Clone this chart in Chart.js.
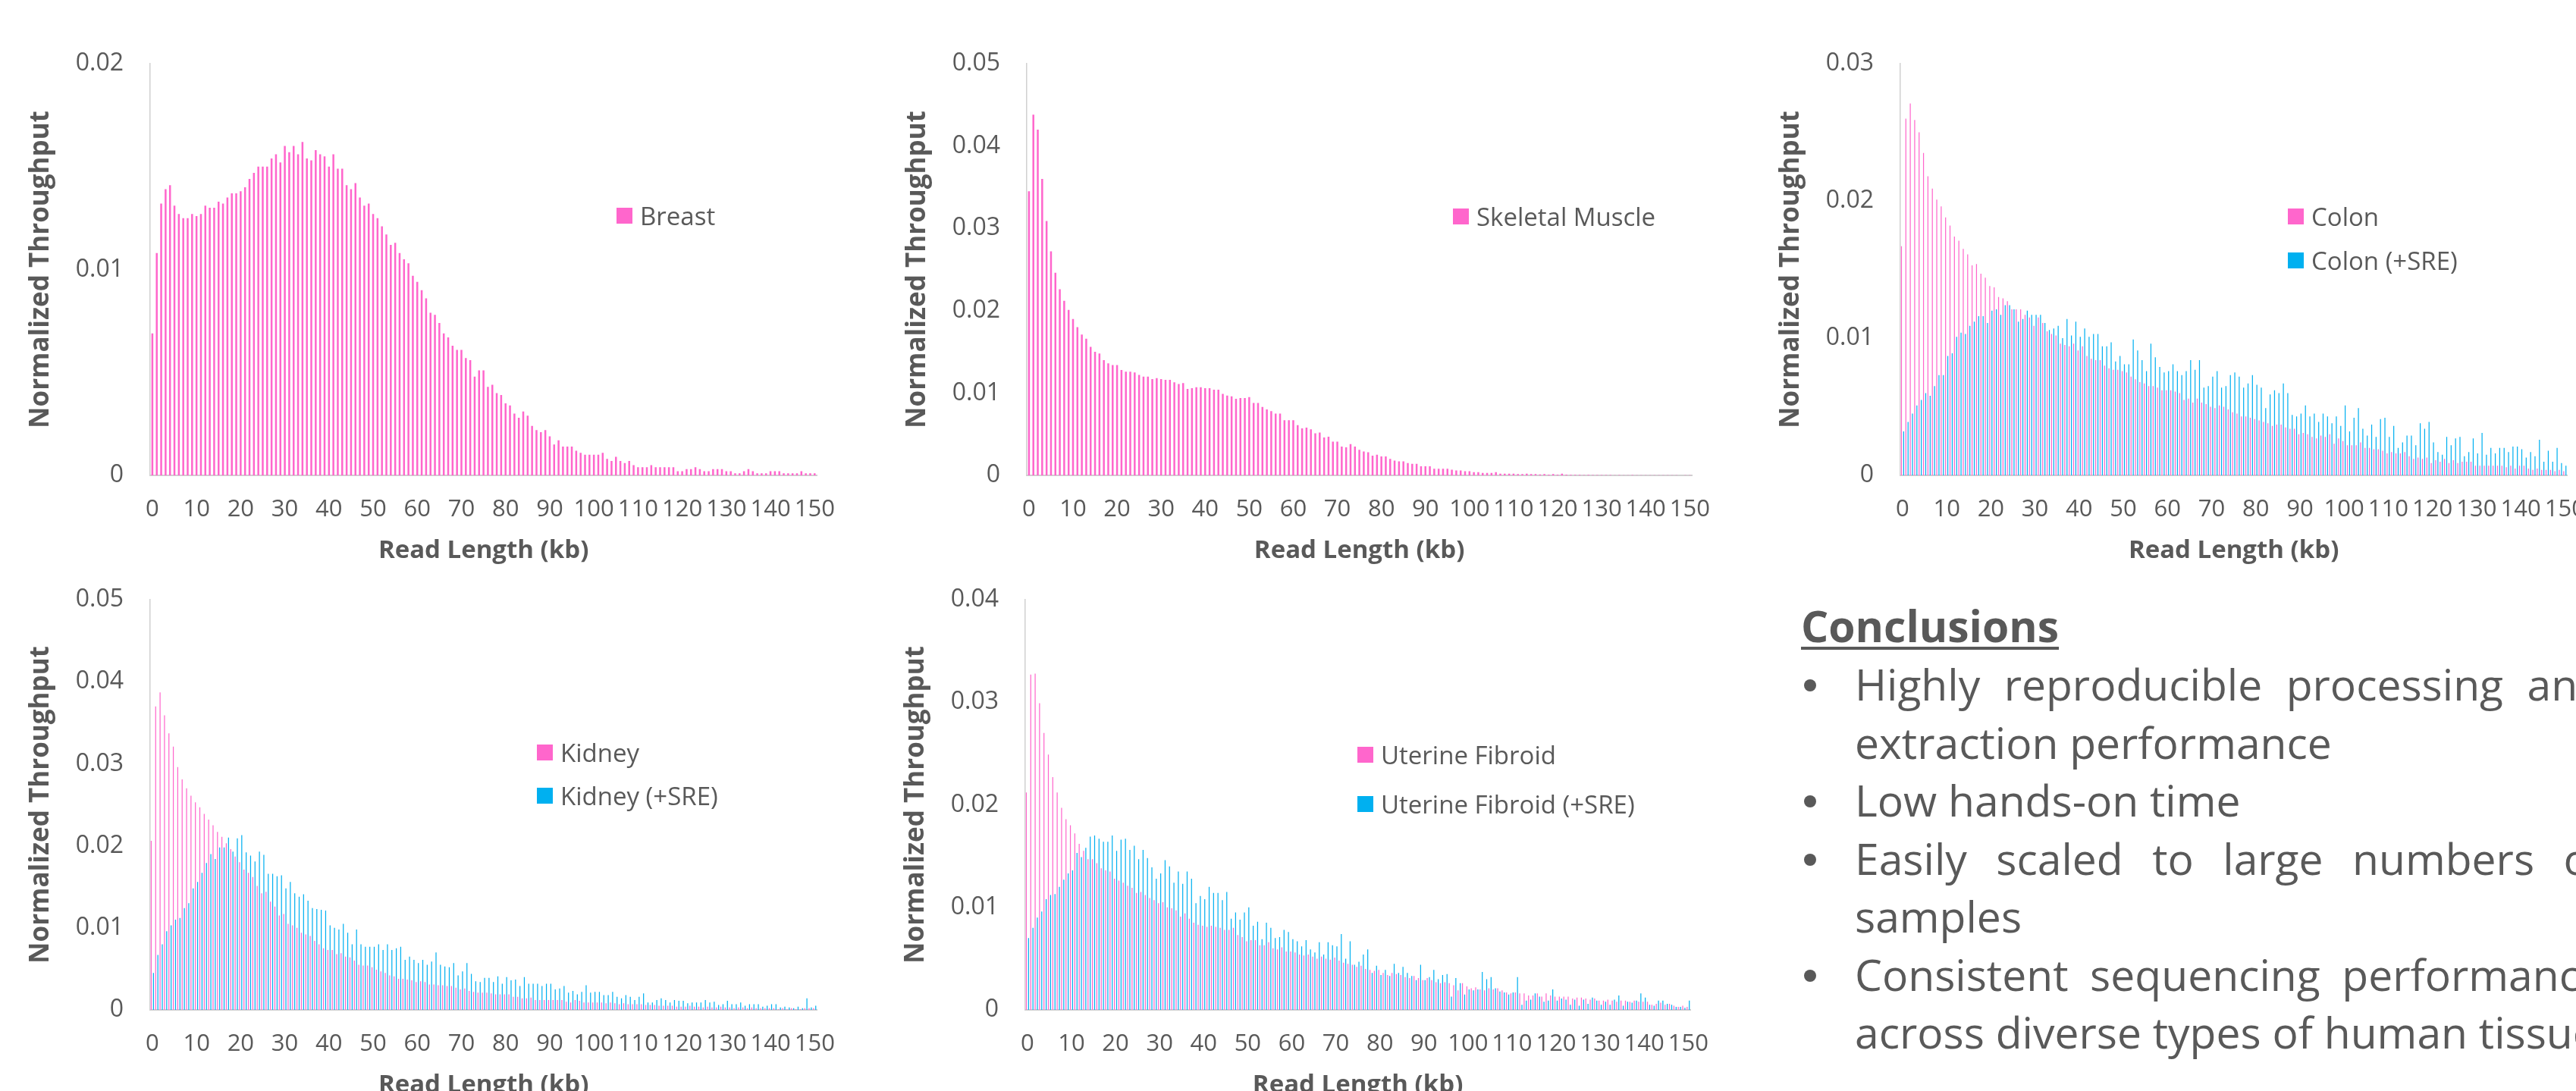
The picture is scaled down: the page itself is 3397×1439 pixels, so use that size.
<!DOCTYPE html>
<html>
<head>
<meta charset="utf-8">
<script src="https://cdn.jsdelivr.net/npm/chart.js@4.4.1/dist/chart.umd.min.js"></script>
<style>
    html, body {
        margin: 0;
        padding: 0;
        width: 3397px;
        height: 1439px;
        overflow: hidden;
        background: #ffffff;
        position: relative;
    }
    canvas { position: absolute; }
    .legend-item {
        position: absolute;
        display: flex;
        align-items: center;
        height: 46px;
        white-space: nowrap;
        font-family: 'Open Sans', sans-serif;
        font-size: 33px;
        color: #595959;
    }
    .legend-item .swatch {
        width: 21px;
        height: 21px;
        margin-right: 10px;
        flex: none;
    }
    .conclusions-title {
        position: absolute;
        left: 2375px;
        top: 787px;
        font-family: 'Open Sans', sans-serif;
        font-weight: 700;
        font-size: 57px;
        line-height: 76.5px;
        color: #595959;
        text-decoration: underline;
        text-decoration-thickness: 4px;
        text-underline-offset: 6px;
        white-space: nowrap;
    }
    .conclusions-line {
        position: absolute;
        left: 2446px;
        width: 988px;
        font-family: 'Open Sans', sans-serif;
        font-size: 57px;
        line-height: 76.5px;
        color: #595959;
        white-space: nowrap;
    }
    .conclusions-line.justify {
        white-space: normal;
        text-align: justify;
        text-align-last: justify;
    }
    .bullet {
        position: absolute;
        left: 2379px;
        width: 16px;
        height: 16px;
        border-radius: 50%;
        background: #595959;
    }
</style>
</head>
<body>
<script>
const TEXT_COLOR = '#595959';
const AXIS_COLOR = '#d0d0d0';
const PINK = '#ff66cc';
const BLUE = '#00b0f0';

// read length categories, 0..150 kb
const readLengths = Array.from({ length: 151 }, (_, i) => i);
const xTickEvery = 10;

const breast = [
    0.0069, 0.0108, 0.0132, 0.0139, 0.0141, 0.0131, 0.0127, 0.0125, 0.0125, 0.0127,
    0.0126, 0.0127, 0.0131, 0.0130, 0.0130, 0.0133, 0.0132, 0.0135, 0.0137, 0.0137,
    0.0138, 0.0140, 0.0144, 0.0147, 0.0150, 0.0150, 0.0150, 0.0154, 0.0156, 0.0152,
    0.0160, 0.0157, 0.0160, 0.0156, 0.0162, 0.0154, 0.0153, 0.0158, 0.0156, 0.0155,
    0.0150, 0.0156, 0.0149, 0.0149, 0.0141, 0.0139, 0.0142, 0.0135, 0.0131, 0.0132,
    0.0127, 0.0125, 0.0121, 0.0117, 0.0112, 0.0113, 0.0108, 0.0105, 0.0103, 0.0097,
    0.0094, 0.0090, 0.0086, 0.0079, 0.0078, 0.0074, 0.0069, 0.0067, 0.0063, 0.0061,
    0.0061, 0.0057, 0.0056, 0.0048, 0.0051, 0.0051, 0.0043, 0.0044, 0.0040, 0.0039,
    0.0035, 0.0034, 0.0030, 0.0028, 0.0031, 0.0029, 0.0024, 0.0022, 0.0021, 0.0022,
    0.0019, 0.0015, 0.0017, 0.0014, 0.0014, 0.0014, 0.0012, 0.0011, 0.0010, 0.0010,
    0.0010, 0.0010, 0.0011, 0.0008, 0.0007, 0.0009, 0.0007, 0.0006, 0.0007, 0.0005,
    0.0004, 0.0004, 0.0004, 0.0005, 0.0004, 0.0004, 0.0004, 0.0004, 0.0004, 0.0002,
    0.0002, 0.0003, 0.0003, 0.0004, 0.0003, 0.0002, 0.0002, 0.0003, 0.0003, 0.0003,
    0.0002, 0.0002, 0.0001, 0.0001, 0.0002, 0.0003, 0.0002, 0.0001, 0.0001, 0.0001,
    0.0002, 0.0002, 0.0002, 0.0001, 0.0001, 0.0001, 0.0001, 0.0002, 0.0001, 0.0001, 0.0001
];

const skeletalMuscle = [
    0.0345, 0.0438, 0.0420, 0.0360, 0.0309, 0.0272, 0.0246, 0.0226, 0.0212, 0.0201,
    0.0190, 0.0180, 0.0171, 0.0166, 0.0156, 0.0150, 0.0148, 0.0140, 0.0136, 0.0134,
    0.0134, 0.0128, 0.0126, 0.0126, 0.0125, 0.0122, 0.0120, 0.0120, 0.0117, 0.0118,
    0.0117, 0.0116, 0.0116, 0.0113, 0.0111, 0.0112, 0.0105, 0.0106, 0.0107, 0.0107,
    0.0106, 0.0106, 0.0104, 0.0104, 0.0099, 0.0097, 0.0096, 0.0093, 0.0094, 0.0094,
    0.0095, 0.0088, 0.0088, 0.0083, 0.0080, 0.0078, 0.0075, 0.0075, 0.0067, 0.0067,
    0.0067, 0.0061, 0.0057, 0.0058, 0.0056, 0.0051, 0.0052, 0.0046, 0.0047, 0.0041,
    0.0041, 0.0035, 0.0034, 0.0038, 0.0035, 0.0031, 0.0029, 0.0028, 0.0024, 0.0025,
    0.0023, 0.0023, 0.0020, 0.0018, 0.0017, 0.0017, 0.0015, 0.0014, 0.0014, 0.0011,
    0.0011, 0.0011, 0.0008, 0.0008, 0.0008, 0.0008, 0.0007, 0.0006, 0.0006, 0.0005,
    0.0005, 0.0004, 0.0004, 0.0003, 0.0003, 0.0003, 0.0004, 0.0002, 0.0002, 0.0002,
    0.0002, 0.00015, 0.00015, 0.0002, 0.00015, 0.00015, 0.00012, 0.00015, 0.0001, 0.00015,
    0.0001, 0.0002, 0.0001, 0.00008, 0.00006, 0.00006, 0.00005, 0.00006, 0.00005, 0.00004,
    0.00004, 0.00005, 0.00004, 0.00003, 0.00004, 0.00003, 0.00003, 0.00004, 0.00003, 0.00002,
    0.00003, 0.00002, 0.00003, 0.00002, 0.00002, 0.00003, 0.00002, 0.00002, 0.00001, 0.00002, 0.00002
];

const colon = [
    0.0167, 0.0260, 0.0271, 0.0259, 0.0250, 0.0235, 0.0218, 0.0209, 0.0201, 0.0196,
    0.0188, 0.0182, 0.0174, 0.0171, 0.0165, 0.0161, 0.0153, 0.0154, 0.0147, 0.0144,
    0.0138, 0.0137, 0.0130, 0.0129, 0.0127, 0.0121, 0.0121, 0.0121, 0.0117, 0.0115,
    0.0109, 0.0115, 0.0111, 0.0105, 0.0103, 0.0102, 0.0096, 0.0095, 0.0094, 0.0096,
    0.0091, 0.0094, 0.0087, 0.0085, 0.0084, 0.0084, 0.0080, 0.0078, 0.0077, 0.0077,
    0.0076, 0.0075, 0.0072, 0.0070, 0.0068, 0.0067, 0.0065, 0.0065, 0.0064, 0.0062,
    0.0062, 0.0062, 0.0061, 0.0060, 0.0055, 0.0056, 0.0053, 0.0056, 0.0053, 0.0052,
    0.0050, 0.0049, 0.0051, 0.0050, 0.0048, 0.0046, 0.0045, 0.0043, 0.0043, 0.0042,
    0.0041, 0.0040, 0.0039, 0.0038, 0.0036, 0.0037, 0.0037, 0.0035, 0.0034, 0.0034,
    0.0030, 0.0031, 0.0030, 0.0028, 0.0027, 0.0029, 0.0028, 0.0030, 0.0023, 0.0027,
    0.0025, 0.0022, 0.0022, 0.0022, 0.0024, 0.0020, 0.0020, 0.0019, 0.0019, 0.0018,
    0.0016, 0.0017, 0.0016, 0.0016, 0.0017, 0.0014, 0.0012, 0.0013, 0.0012, 0.0013,
    0.0009, 0.0011, 0.0010, 0.0012, 0.0009, 0.0011, 0.0009, 0.0010, 0.0010, 0.0010,
    0.0007, 0.0007, 0.0007, 0.0007, 0.0007, 0.0007, 0.0007, 0.0006, 0.0007, 0.0005,
    0.0007, 0.0007, 0.0005, 0.0004, 0.0005, 0.0004, 0.0004, 0.0004, 0.0003, 0.0004, 0.0003
];

const colonSre = [
    0.0032, 0.0039, 0.0045, 0.0051, 0.0055, 0.0060, 0.0058, 0.0065, 0.0073, 0.0073,
    0.0087, 0.0089, 0.0101, 0.0104, 0.0103, 0.0109, 0.0112, 0.0116, 0.0116, 0.0111,
    0.0120, 0.0121, 0.0117, 0.0124, 0.0124, 0.0121, 0.0112, 0.0114, 0.0120, 0.0117,
    0.0117, 0.0117, 0.0111, 0.0106, 0.0107, 0.0109, 0.0100, 0.0114, 0.0102, 0.0112,
    0.0101, 0.0107, 0.0101, 0.0103, 0.0103, 0.0094, 0.0094, 0.0097, 0.0083, 0.0087,
    0.0081, 0.0081, 0.0099, 0.0091, 0.0084, 0.0076, 0.0096, 0.0086, 0.0079, 0.0075,
    0.0076, 0.0081, 0.0076, 0.0073, 0.0076, 0.0084, 0.0077, 0.0084, 0.0064, 0.0065,
    0.0072, 0.0076, 0.0064, 0.0065, 0.0073, 0.0075, 0.0072, 0.0064, 0.0067, 0.0073,
    0.0066, 0.0064, 0.0049, 0.0059, 0.0062, 0.0060, 0.0067, 0.0060, 0.0044, 0.0043,
    0.0045, 0.0051, 0.0043, 0.0045, 0.0039, 0.0045, 0.0043, 0.0038, 0.0043, 0.0036,
    0.0051, 0.0032, 0.0042, 0.0049, 0.0034, 0.0029, 0.0037, 0.0028, 0.0041, 0.0042,
    0.0028, 0.0036, 0.0020, 0.0024, 0.0029, 0.0029, 0.0022, 0.0038, 0.0034, 0.0039,
    0.0024, 0.0017, 0.0015, 0.0028, 0.0022, 0.0027, 0.0028, 0.0014, 0.0017, 0.0027,
    0.0016, 0.0031, 0.0015, 0.0020, 0.0016, 0.0020, 0.0020, 0.0017, 0.0021, 0.0021,
    0.0019, 0.0013, 0.0017, 0.0014, 0.0026, 0.0010, 0.0018, 0.0010, 0.0020, 0.0009, 0.0007
];

const kidney = [
    0.0206, 0.0370, 0.0387, 0.0359, 0.0337, 0.0321, 0.0296, 0.0281, 0.0270, 0.0261,
    0.0253, 0.0247, 0.0239, 0.0232, 0.0225, 0.0217, 0.0211, 0.0203, 0.0196, 0.0187,
    0.0180, 0.0171, 0.0167, 0.0162, 0.0151, 0.0142, 0.0144, 0.0132, 0.0126, 0.0115,
    0.0117, 0.0105, 0.0103, 0.0100, 0.0094, 0.0092, 0.0090, 0.0084, 0.0080, 0.0075,
    0.0073, 0.0073, 0.0068, 0.0069, 0.0065, 0.0064, 0.0060, 0.0055, 0.0054, 0.0054,
    0.0052, 0.0049, 0.0047, 0.0045, 0.0042, 0.0041, 0.0038, 0.0038, 0.0037, 0.0036,
    0.0034, 0.0035, 0.0034, 0.0031, 0.0031, 0.0030, 0.0030, 0.0029, 0.0029, 0.0027,
    0.0025, 0.0026, 0.0023, 0.0022, 0.0021, 0.0021, 0.0021, 0.0020, 0.0019, 0.0019,
    0.0019, 0.0019, 0.0016, 0.0016, 0.0014, 0.0014, 0.0015, 0.0012, 0.0012, 0.0012,
    0.0012, 0.0012, 0.0012, 0.0012, 0.0010, 0.0009, 0.0012, 0.0011, 0.0009, 0.0009,
    0.0009, 0.0009, 0.0009, 0.0008, 0.0009, 0.0008, 0.0007, 0.0008, 0.0007, 0.0007,
    0.0007, 0.0007, 0.0006, 0.0006, 0.0006, 0.0005, 0.0005, 0.0005, 0.0005, 0.0004,
    0.0004, 0.0004, 0.0005, 0.0004, 0.0004, 0.0003, 0.0004, 0.0003, 0.0003, 0.0004,
    0.0003, 0.0003, 0.0002, 0.0003, 0.0003, 0.0002, 0.0003, 0.0002, 0.0002, 0.0002,
    0.0002, 0.0002, 0.0001, 0.0002, 0.0001, 0.0002, 0.0001, 0.0001, 0.0002, 0.0002, 0.0002
];

const kidneySre = [
    0.0045, 0.0067, 0.0080, 0.0096, 0.0103, 0.0110, 0.0112, 0.0124, 0.0130, 0.0148,
    0.0156, 0.0167, 0.0179, 0.0190, 0.0184, 0.0198, 0.0198, 0.0210, 0.0193, 0.0209,
    0.0213, 0.0192, 0.0188, 0.0181, 0.0193, 0.0189, 0.0166, 0.0166, 0.0163, 0.0164,
    0.0148, 0.0156, 0.0142, 0.0138, 0.0141, 0.0133, 0.0124, 0.0123, 0.0122, 0.0121,
    0.0103, 0.0100, 0.0098, 0.0105, 0.0094, 0.0080, 0.0098, 0.0080, 0.0077, 0.0077,
    0.0077, 0.0080, 0.0073, 0.0080, 0.0073, 0.0075, 0.0077, 0.0061, 0.0065, 0.0061,
    0.0057, 0.0061, 0.0055, 0.0059, 0.0070, 0.0055, 0.0053, 0.0052, 0.0057, 0.0042,
    0.0047, 0.0057, 0.0044, 0.0035, 0.0034, 0.0039, 0.0039, 0.0034, 0.0041, 0.0032,
    0.0040, 0.0036, 0.0037, 0.0029, 0.0040, 0.0032, 0.0032, 0.0032, 0.0029, 0.0032,
    0.0032, 0.0025, 0.0026, 0.0029, 0.0021, 0.0023, 0.0019, 0.0022, 0.0030, 0.0021,
    0.0022, 0.0022, 0.0018, 0.0018, 0.0022, 0.0016, 0.0014, 0.0018, 0.0016, 0.0012,
    0.0016, 0.0020, 0.0009, 0.0009, 0.0012, 0.0014, 0.0012, 0.0009, 0.0012, 0.0011,
    0.0011, 0.0008, 0.0009, 0.0009, 0.0009, 0.0012, 0.0009, 0.0010, 0.0006, 0.0007,
    0.0011, 0.0007, 0.0007, 0.0009, 0.0005, 0.0007, 0.0007, 0.0007, 0.0004, 0.0005,
    0.0007, 0.0007, 0.0003, 0.0004, 0.0003, 0.0002, 0.0004, 0.0002, 0.0014, 0.0003, 0.0005
];

const uterineFibroid = [
    0.0212, 0.0327, 0.0328, 0.0299, 0.0270, 0.0249, 0.0227, 0.0212, 0.0197, 0.0186,
    0.0180, 0.0172, 0.0162, 0.0155, 0.0147, 0.0147, 0.0143, 0.0138, 0.0136, 0.0135,
    0.0128, 0.0126, 0.0124, 0.0121, 0.0119, 0.0114, 0.0115, 0.0112, 0.0109, 0.0107,
    0.0104, 0.0105, 0.0100, 0.0099, 0.0097, 0.0091, 0.0094, 0.0089, 0.0085, 0.0083,
    0.0082, 0.0081, 0.0082, 0.0081, 0.0080, 0.0078, 0.0078, 0.0080, 0.0073, 0.0071,
    0.0067, 0.0068, 0.0068, 0.0063, 0.0063, 0.0066, 0.0060, 0.0059, 0.0061, 0.0057,
    0.0057, 0.0056, 0.0054, 0.0053, 0.0054, 0.0052, 0.0050, 0.0052, 0.0050, 0.0049,
    0.0051, 0.0048, 0.0046, 0.0045, 0.0044, 0.0042, 0.0043, 0.0040, 0.0039, 0.0038,
    0.0039, 0.0036, 0.0034, 0.0036, 0.0035, 0.0034, 0.0032, 0.0031, 0.0033, 0.0031,
    0.0029, 0.0031, 0.0029, 0.0027, 0.0026, 0.0027, 0.0026, 0.0024, 0.0019, 0.0026,
    0.0023, 0.0021, 0.0022, 0.0020, 0.0019, 0.0021, 0.0020, 0.0021, 0.0019, 0.0017,
    0.0016, 0.0017, 0.0016, 0.0016, 0.0014, 0.0014, 0.0016, 0.0013, 0.0016, 0.0014,
    0.0013, 0.0013, 0.0013, 0.0013, 0.0011, 0.0012, 0.0012, 0.0011, 0.0010, 0.0011,
    0.0009, 0.0009, 0.0010, 0.0009, 0.0008, 0.0009, 0.0009, 0.0008, 0.0009, 0.0008,
    0.0008, 0.0008, 0.0005, 0.0006, 0.0007, 0.0005, 0.0006, 0.0004, 0.0003, 0.0004, 0.0003
];

const uterineFibroidSre = [
    0.0070, 0.0080, 0.0090, 0.0096, 0.0108, 0.0112, 0.0113, 0.0120, 0.0127, 0.0133,
    0.0136, 0.0153, 0.0149, 0.0158, 0.0169, 0.0170, 0.0167, 0.0164, 0.0164, 0.0170,
    0.0155, 0.0166, 0.0167, 0.0156, 0.0160, 0.0147, 0.0156, 0.0148, 0.0139, 0.0128,
    0.0133, 0.0146, 0.0140, 0.0124, 0.0135, 0.0123, 0.0135, 0.0128, 0.0104, 0.0111,
    0.0108, 0.0120, 0.0114, 0.0114, 0.0107, 0.0115, 0.0089, 0.0095, 0.0088, 0.0095,
    0.0100, 0.0082, 0.0086, 0.0069, 0.0085, 0.0080, 0.0070, 0.0071, 0.0078, 0.0076,
    0.0069, 0.0067, 0.0062, 0.0068, 0.0059, 0.0056, 0.0066, 0.0054, 0.0066, 0.0063,
    0.0062, 0.0074, 0.0050, 0.0067, 0.0044, 0.0047, 0.0054, 0.0059, 0.0036, 0.0043,
    0.0034, 0.0039, 0.0033, 0.0045, 0.0036, 0.0042, 0.0036, 0.0033, 0.0029, 0.0044,
    0.0029, 0.0032, 0.0039, 0.0030, 0.0034, 0.0035, 0.0013, 0.0031, 0.0026, 0.0015,
    0.0020, 0.0019, 0.0020, 0.0037, 0.0030, 0.0032, 0.0021, 0.0018, 0.0017, 0.0015,
    0.0017, 0.0032, 0.0005, 0.0009, 0.0010, 0.0016, 0.0013, 0.0008, 0.0009, 0.0020,
    0.0009, 0.0011, 0.0010, 0.0005, 0.0010, 0.0004, 0.0010, 0.0006, 0.0012, 0.0009,
    0.0005, 0.0008, 0.0005, 0.0010, 0.0014, 0.0004, 0.0008, 0.0007, 0.0009, 0.0016,
    0.0012, 0.0005, 0.0004, 0.0009, 0.0009, 0.0006, 0.0005, 0.0003, 0.0003, 0.0002, 0.0009
];

const yTickStep = 0.01;

// each panel: plot area edges in page pixels, y max, and its series
const panels = [
    { left: 198, right: 1088, top: 84, bottom: 627, yMax: 0.02,
      series: [{ label: 'Breast', data: breast, color: PINK }],
      legend: { left: 813, y: [284.5] } },
    { left: 1354, right: 2242, top: 84, bottom: 627, yMax: 0.05,
      series: [{ label: 'Skeletal Muscle', data: skeletalMuscle, color: PINK }],
      legend: { left: 1916, y: [285] } },
    { left: 2506, right: 3396, top: 84, bottom: 627, yMax: 0.03,
      series: [{ label: 'Colon', data: colon, color: PINK },
               { label: 'Colon (+SRE)', data: colonSre, color: BLUE }],
      legend: { left: 3017, y: [285.5, 343] } },
    { left: 198, right: 1088, top: 791, bottom: 1332, yMax: 0.05,
      series: [{ label: 'Kidney', data: kidney, color: PINK },
               { label: 'Kidney (+SRE)', data: kidneySre, color: BLUE }],
      legend: { left: 708, y: [992.5, 1049] } },
    { left: 1352, right: 2240, top: 791, bottom: 1332, yMax: 0.04,
      series: [{ label: 'Uterine Fibroid', data: uterineFibroid, color: PINK },
               { label: 'Uterine Fibroid (+SRE)', data: uterineFibroidSre, color: BLUE }],
      legend: { left: 1790, y: [995.5, 1060] } }
];

const conclusionsTitle = 'Conclusions';
const conclusionItems = [
    ['Highly reproducible processing and', 'extraction performance'],
    ['Low hands-on time'],
    ['Easily scaled to large numbers of', 'samples'],
    ['Consistent sequencing performance', 'across diverse types of human tissues']
];

const Y_AXIS_W = 198;
const X_AXIS_H = 130;
const PAD_TOP = 84;
const PAD_RIGHT = 40;

function renderPanel(panel) {
    const width = panel.right - panel.left + Y_AXIS_W + PAD_RIGHT;
    const height = PAD_TOP + panel.bottom - panel.top + X_AXIS_H;
    const canvas = document.createElement('canvas');
    canvas.width = width;
    canvas.height = height;
    canvas.style.width = width + 'px';
    canvas.style.height = height + 'px';
    canvas.style.left = (panel.left - Y_AXIS_W) + 'px';
    canvas.style.top = (panel.top - PAD_TOP) + 'px';
    document.body.appendChild(canvas);

    const paired = panel.series.length > 1;

    return new Chart(canvas, {
        type: 'bar',
        data: {
            labels: readLengths,
            datasets: panel.series.map(s => ({
                label: s.label,
                data: s.data,
                backgroundColor: s.color,
                borderWidth: 0,
                categoryPercentage: paired ? 1.0 : 0.9,
                barPercentage: paired ? 0.42 : 0.48
            }))
        },
        options: {
            responsive: false,
            animation: false,
            devicePixelRatio: 1,
            layout: { padding: { left: 0, top: PAD_TOP, right: PAD_RIGHT, bottom: 0 } },
            plugins: {
                legend: { display: false },
                tooltip: { enabled: false }
            },
            scales: {
                x: {
                    grid: { display: false, drawTicks: false },
                    border: { display: true, color: AXIS_COLOR, width: 2 },
                    ticks: {
                        autoSkip: false,
                        maxRotation: 0,
                        minRotation: 0,
                        padding: 27,
                        color: TEXT_COLOR,
                        font: { family: 'Open Sans', size: 31 },
                        callback(value, index) {
                            return index % xTickEvery === 0 ? String(readLengths[index]) : '';
                        }
                    },
                    title: {
                        display: true,
                        text: 'Read Length (kb)',
                        color: TEXT_COLOR,
                        font: { family: 'Open Sans', size: 33, weight: 'bold' },
                        padding: { top: 0, bottom: 11 }
                    },
                    afterFit(scale) { scale.height = X_AXIS_H; }
                },
                y: {
                    min: 0,
                    max: panel.yMax,
                    grid: { display: false, drawTicks: false },
                    border: { display: true, color: AXIS_COLOR, width: 1.5 },
                    ticks: {
                        stepSize: yTickStep,
                        padding: 35,
                        color: TEXT_COLOR,
                        font: { family: 'Open Sans', size: 32 },
                        callback(value) {
                            return value === 0 ? '0' : Number(value).toFixed(2);
                        }
                    },
                    title: {
                        display: true,
                        text: 'Normalized Throughput',
                        color: TEXT_COLOR,
                        font: { family: 'Open Sans', size: 35, weight: 'bold' },
                        padding: { top: 33, bottom: 0 }
                    },
                    afterFit(scale) { scale.width = Y_AXIS_W; }
                }
            }
        }
    });
}

function renderLegend(panel) {
    panel.series.forEach((s, index) => {
        const item = document.createElement('div');
        item.className = 'legend-item';
        item.style.left = panel.legend.left + 'px';
        item.style.top = (panel.legend.y[index] - 23) + 'px';
        const swatch = document.createElement('span');
        swatch.className = 'swatch';
        swatch.style.background = s.color;
        const label = document.createElement('span');
        label.textContent = s.label;
        item.appendChild(swatch);
        item.appendChild(label);
        document.body.appendChild(item);
    });
}

function renderConclusions() {
    const title = document.createElement('div');
    title.className = 'conclusions-title';
    title.textContent = conclusionsTitle;
    document.body.appendChild(title);

    const firstTop = 864;
    const lineStep = 76.5;
    let row = 0;
    conclusionItems.forEach(lines => {
        // round bullet, centred on the first line of the item
        const bullet = document.createElement('div');
        bullet.className = 'bullet';
        bullet.style.top = (firstTop + row * lineStep + 32) + 'px';
        document.body.appendChild(bullet);
        lines.forEach((text, i) => {
            const line = document.createElement('div');
            line.className = 'conclusions-line' + (i < lines.length - 1 ? ' justify' : '');
            line.style.top = (firstTop + row * lineStep) + 'px';
            line.textContent = text;
            document.body.appendChild(line);
            row += 1;
        });
    });
}

panels.forEach(panel => {
    renderPanel(panel);
    renderLegend(panel);
});
renderConclusions();
</script>
</body>
</html>
